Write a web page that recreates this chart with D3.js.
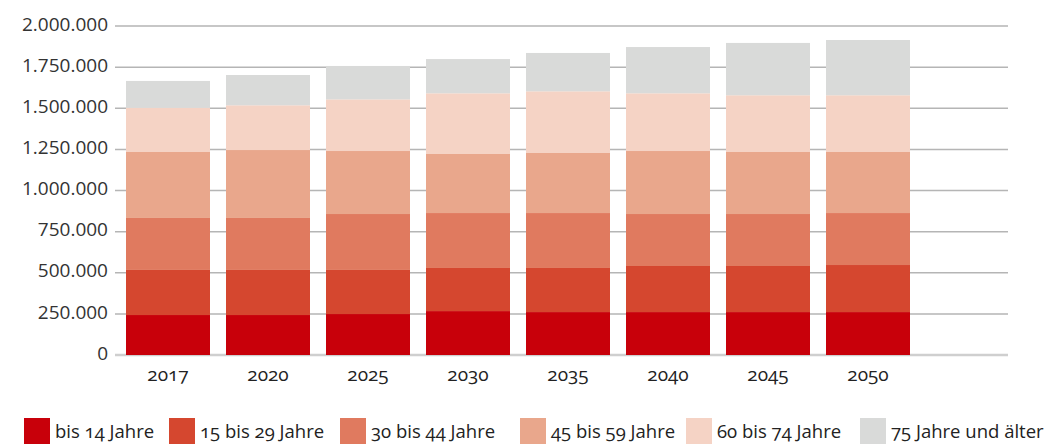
<!DOCTYPE html>
<html>
<head>
<meta charset="utf-8">
<script src="https://cdn.jsdelivr.net/npm/d3@7"></script>
<style>
  body { margin: 0; background: #fff; }
  svg { display: block; }
  .xlab { font-family: "Open Sans", sans-serif; font-size: 19px; fill: #222; font-variant-numeric: oldstyle-nums; }
  .ylab { font-family: "Open Sans", sans-serif; font-size: 19px; fill: #333; }
  .legend text { font-family: "Open Sans", sans-serif; font-size: 18.5px; fill: #222; font-variant-numeric: oldstyle-nums; }
</style>
</head>
<body>
<svg id="chart" width="1059" height="445"></svg>
<script>
// years on the x axis
const years = ["2017", "2020", "2025", "2030", "2035", "2040", "2045", "2050"];
// age groups (stack order, bottom to top)
const groups = ["bis 14 Jahre", "15 bis 29 Jahre", "30 bis 44 Jahre", "45 bis 59 Jahre", "60 bis 74 Jahre", "75 Jahre und älter"];
const colors = ["#c8000a", "#d5472f", "#e07a5f", "#e9a78c", "#f5d3c5", "#d9dad9"];

// population per age group
const bis14   = [243000, 243000, 249000, 267000, 261000, 261000, 261000, 261000];
const a15_29  = [274000, 274000, 268000, 262000, 268000, 280000, 280000, 286000];
const a30_44  = [316000, 316000, 340000, 334000, 334000, 316000, 316000, 316000];
const a45_59  = [401000, 413000, 383000, 359000, 365000, 383000, 377000, 371000];
const a60_74  = [269000, 272000, 314000, 369000, 375000, 351000, 345000, 345000];
const a75plus = [163000, 184000, 203000, 208000, 233000, 281000, 318000, 336000];

const yTicks = [0, 250000, 500000, 750000, 1000000, 1250000, 1500000, 1750000, 2000000];

const series = [bis14, a15_29, a30_44, a45_59, a60_74, a75plus];
const table = years.map((y, i) => {
    let row = { year: y };
    groups.forEach((g, k) => row[g] = series[k][i]);
    return row;
});

let svg = d3.select("#chart");

let xScale = d3.scaleBand().domain(years).range([118, 918])
    .paddingInner(0.16).paddingOuter(0.08);
let yScale = d3.scaleLinear().domain([0, 2000000]).range([355, 26]);

const fmt = v => d3.format(",")(v).replace(/,/g, ".");

// grid lines
svg.append("g").selectAll("line")
    .data(yTicks)
    .enter().append("line")
    .attr("x1", 115).attr("x2", 1008)
    .attr("y1", d => yScale(d)).attr("y2", d => yScale(d))
    .attr("stroke", d => d == 0 ? "#cfcfcf" : "#b5b5b5")
    .attr("stroke-width", d => d == 0 ? 2.5 : 1.5);

// y labels
svg.append("g").selectAll("text")
    .data(yTicks)
    .enter().append("text")
    .attr("class", "ylab")
    .attr("x", 108)
    .attr("y", d => yScale(d) - 2)
    .attr("dy", "0.35em")
    .attr("text-anchor", "end")
    .text(d => fmt(d));

// stacked bars
let stacked = d3.stack().keys(groups)(table);

svg.append("g").selectAll("g")
    .data(stacked)
    .enter().append("g")
    .attr("fill", (d, i) => colors[i])
    .selectAll("rect")
    .data(d => d)
    .enter().append("rect")
    .attr("x", d => xScale(d.data.year))
    .attr("y", d => yScale(d[1]))
    .attr("width", xScale.bandwidth())
    .attr("height", d => yScale(d[0]) - yScale(d[1]));

// x labels
svg.append("g").selectAll("text")
    .data(years)
    .enter().append("text")
    .attr("class", "xlab")
    .attr("x", d => xScale(d) + xScale.bandwidth() / 2)
    .attr("y", 381)
    .attr("text-anchor", "middle")
    .text(d => d);

// legend, item positions follow the original layout
const legendX = [24, 169, 340, 520, 686, 860];
let legend = svg.append("g").attr("class", "legend");
groups.forEach((g, i) => {
    let item = legend.append("g").attr("transform", `translate(${legendX[i]},418)`);
    item.append("rect").attr("width", 26).attr("height", 26).attr("fill", colors[i]);
    item.append("text").attr("x", 31).attr("y", 20).text(g);
});
</script>
</body>
</html>
